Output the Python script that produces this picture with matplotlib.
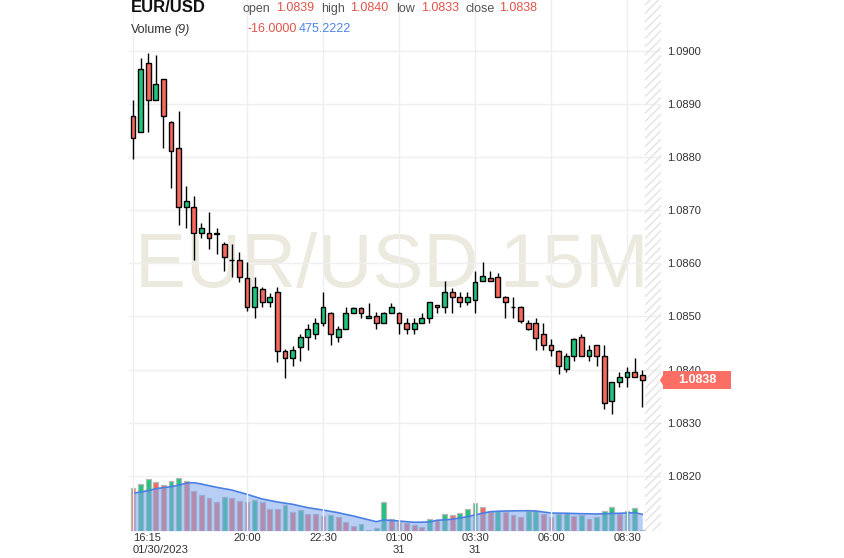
import matplotlib
matplotlib.use('Agg')
import matplotlib.pyplot as plt
import numpy as np
from matplotlib.patches import Rectangle, Polygon
from matplotlib.transforms import blended_transform_factory

plt.rcParams['font.family'] = ['Liberation Sans', 'DejaVu Sans']

# 15 minute candles, 16:15 (01/30) .. 09:00 (01/31)
open_ = [1.08878, 1.08847, 1.08977, 1.08908, 1.08947, 1.08866, 1.08817, 1.08706, 1.08706, 1.08657,
         1.08657, 1.08655, 1.08637, 1.08606, 1.08606, 1.08573, 1.08518, 1.08552, 1.08527, 1.08546,
         1.08435, 1.08422, 1.08443, 1.08461, 1.08467, 1.08488, 1.08507, 1.08461, 1.08477, 1.08507,
         1.08516, 1.08497, 1.08501, 1.08488, 1.08507, 1.08507, 1.08488, 1.08477, 1.08488, 1.08497,
         1.08522, 1.08518, 1.08546, 1.08537, 1.08527, 1.08531, 1.08567, 1.08573, 1.08574, 1.08537,
         1.08518, 1.08518, 1.08488, 1.08488, 1.08467, 1.08446, 1.08435, 1.08401, 1.08426, 1.08461,
         1.08426, 1.08446, 1.08426, 1.08341, 1.08377, 1.08386, 1.08396, 1.0839]
high = [1.08908, 1.08987, 1.08996, 1.08992, 1.08947, 1.08868, 1.08887, 1.08746, 1.08727, 1.08676,
        1.08697, 1.08667, 1.08640, 1.08637, 1.08622, 1.08603, 1.08574, 1.08556, 1.08544, 1.08556,
        1.08439, 1.08445, 1.08467, 1.08486, 1.08497, 1.08546, 1.08509, 1.08482, 1.08518, 1.08518,
        1.08518, 1.08525, 1.08509, 1.08509, 1.08525, 1.08509, 1.08497, 1.08497, 1.08507, 1.08527,
        1.08522, 1.08567, 1.08554, 1.08546, 1.08546, 1.08586, 1.08603, 1.08586, 1.08582, 1.08539,
        1.08537, 1.08520, 1.08493, 1.08497, 1.08488, 1.08458, 1.08437, 1.08431, 1.08460, 1.08467,
        1.08446, 1.08446, 1.08446, 1.08377, 1.08396, 1.08405, 1.08422, 1.0840]
low = [1.08797, 1.08847, 1.08847, 1.08908, 1.08817, 1.08742, 1.08672, 1.08667, 1.08606, 1.08648,
       1.08627, 1.08618, 1.08586, 1.08574, 1.08565, 1.08510, 1.08497, 1.08518, 1.08518, 1.08414,
       1.08384, 1.08407, 1.08416, 1.08437, 1.08458, 1.08482, 1.08446, 1.08452, 1.08477, 1.08507,
       1.08497, 1.08497, 1.08477, 1.08488, 1.08507, 1.08467, 1.08467, 1.08467, 1.08488, 1.08488,
       1.08507, 1.08507, 1.08507, 1.08518, 1.08522, 1.08507, 1.08567, 1.08567, 1.08537, 1.08497,
       1.08497, 1.08488, 1.08475, 1.08437, 1.08437, 1.08426, 1.08392, 1.08396, 1.08416, 1.08426,
       1.08416, 1.08407, 1.08326, 1.08317, 1.08367, 1.08367, 1.08386, 1.0833]
close = [1.08836, 1.08966, 1.08908, 1.08938, 1.08878, 1.08812, 1.08706, 1.08718, 1.08657, 1.08667,
         1.08648, 1.08657, 1.08612, 1.08606, 1.08574, 1.08518, 1.08556, 1.08527, 1.08537, 1.08435,
         1.08422, 1.08437, 1.08461, 1.08477, 1.08488, 1.08518, 1.08467, 1.08477, 1.08507, 1.08516,
         1.08507, 1.08501, 1.08488, 1.08507, 1.08518, 1.08488, 1.08477, 1.08488, 1.08497, 1.08527,
         1.08518, 1.08546, 1.08537, 1.08527, 1.08537, 1.08565, 1.08576, 1.08567, 1.08537, 1.08527,
         1.08518, 1.08492, 1.08477, 1.08460, 1.08446, 1.08437, 1.08407, 1.08426, 1.08458, 1.08426,
         1.08437, 1.08426, 1.08337, 1.08377, 1.08386, 1.08396, 1.08386, 1.0838]

volume = [1230, 1363, 1508, 1421, 1334, 1450, 1537, 1450, 1160, 1027,
          957, 841, 986, 957, 870, 841, 899, 841, 638, 624,
          754, 551, 609, 476, 470, 435, 450, 406, 261, 145,
          203, 29, 87, 841, 339, 261, 232, 174, 116, 348,
          319, 493, 464, 522, 638, 812, 696, 551, 580, 551,
          464, 406, 580, 585, 493, 406, 493, 500, 435, 464,
          348, 406, 580, 696, 493, 580, 667, 20]
volume_ma = [1085, 1122, 1160, 1218, 1247, 1276, 1320, 1378, 1392, 1354,
             1305, 1259, 1218, 1180, 1117, 1056, 986, 919, 876, 832,
             798, 766, 716, 667, 632, 600, 560, 522, 473, 426,
             371, 316, 261, 310, 296, 281, 261, 244, 247, 252,
             302, 316, 331, 368, 406, 455, 505, 551, 563, 571,
             574, 577, 580, 571, 542, 513, 508, 505, 499, 493,
             490, 484, 493, 499, 505, 513, 522, 475]

tick_pos = [0, 15, 25, 35, 45, 55, 65]
tick_labels = ['16:15\n01/30/2023', '20:00', '22:30', '01:00\n31', '03:30\n31', '06:00', '08:30']
price_ticks = [1.0820, 1.0830, 1.0840, 1.0850, 1.0860, 1.0870, 1.0880, 1.0890, 1.0900]

UP = '#1fc47d'
DOWN = '#f7695d'

o = np.array(open_)
h = np.array(high)
l = np.array(low)
c = np.array(close)
x = np.arange(len(o))
v = np.array(volume)

fig = plt.figure(figsize=(8.44, 5.58), dpi=100)
rect = [129 / 844, 1 - 530.7 / 558, 532 / 844, 530.7 / 558]

# volume pane (behind price pane)
ax_v = fig.add_axes(rect)
ax_v.set_zorder(1)
vol_up = np.r_[False, v[1:] >= v[:-1]]
ax_v.bar(x, v, width=0.65, color=np.where(vol_up, UP, DOWN),
         edgecolor='#b8b8b8', linewidth=0.9, zorder=2)
ax_v.fill_between(x, volume_ma, 0, color='#7fa6ec', alpha=0.55, linewidth=0, zorder=3)
ax_v.plot(x, volume_ma, color='#4a7fe3', linewidth=1.2, zorder=4)
ax_v.set_ylim(0, 530.7 * 29)
ax_v.axis('off')

ax = fig.add_axes(rect, sharex=ax_v)
ax.set_zorder(2)
ax.patch.set_visible(False)

# wicks and bodies
ax.vlines(x, l, h, color='black', linewidth=1, zorder=3)
up = c >= o
ax.bar(x, np.abs(c - o), bottom=np.minimum(o, c), width=0.65,
       color=np.where(up, UP, DOWN), edgecolor='black', linewidth=1, zorder=4)

ax.set_xlim(-0.53, 69.47)
ax.set_ylim(1.080966, 1.090960)

# hatched "future" area
ax.axvspan(67.4, 69.47, facecolor='none', edgecolor='#e3e3e3', hatch='////', linewidth=0, zorder=1)

# watermark
ax.text(0.493, 0.459, 'EUR/USD 15M', transform=ax.transAxes, ha='center', va='baseline',
        fontsize=55, color='#ece9de', zorder=0.5)

ax.grid(True, color='#efefef', linewidth=1, zorder=0.8)
ax.set_axisbelow(True)
for s in ax.spines.values():
    s.set_visible(False)

ax.set_xticks(tick_pos)
ax.set_xticklabels(tick_labels)
ax.xaxis.get_ticklabels()[0].set_ha('left')
ax.tick_params(axis='x', length=0, pad=2, labelsize=8, labelcolor='#333333')
ax.yaxis.tick_right()
ax.set_yticks(price_ticks)
ax.set_yticklabels([f'{p:.4f}' for p in price_ticks])
ax.tick_params(axis='y', length=0, pad=4.5, labelsize=8, labelcolor='#333333')

# last price label
tr = blended_transform_factory(ax.transAxes, ax.transData)
last = close[-1]
bh = 18 / 53100
ax.add_patch(Rectangle((1.0038, last - bh / 2), 68 / 532, bh, transform=tr,
                       facecolor='#fa6e64', edgecolor='none', clip_on=False, zorder=5))
ax.add_patch(Polygon([(0.998, last), (1.0040, last + bh * 0.3), (1.0040, last - bh * 0.3)],
                     closed=True, transform=tr, facecolor='#fa6e64', edgecolor='none',
                     clip_on=False, zorder=5))
ax.text(1.0038 + 34 / 532, last, f'{last:.4f}', transform=tr, ha='center', va='center',
        color='white', fontsize=9, fontweight='bold', zorder=6)

# header
def header(px, py, s, **kw):
    fig.text(px / 844, 1 - py / 558, s, va='center', **kw)

header(131, 8, 'EUR/USD', fontsize=12, fontweight='bold', color='#111111')
header(242, 9, 'open', fontsize=9, color='#555555')
header(276, 8, f'{open_[-1]:.4f}', fontsize=9, color='#e0534a')
header(321, 9, 'high', fontsize=9, color='#555555')
header(350, 8, f'{high[-1]:.4f}', fontsize=9, color='#e0534a')
header(396, 9, 'low', fontsize=9, color='#555555')
header(421, 8, f'{low[-1]:.4f}', fontsize=9, color='#e0534a')
header(466, 9, 'close', fontsize=9, color='#555555')
header(499, 8, f'{close[-1]:.4f}', fontsize=9, color='#e0534a')
header(131, 30, 'Volume', fontsize=9, color='#333333')
header(174, 30, '(9)', fontsize=9, color='#333333', style='italic')
header(248, 29, '-16.0000', fontsize=9, color='#e0534a')
header(299, 29, f'{volume_ma[-1] + 0.2222:.4f}', fontsize=9, color='#4a86e8')

fig.savefig('out.png', dpi=100)
